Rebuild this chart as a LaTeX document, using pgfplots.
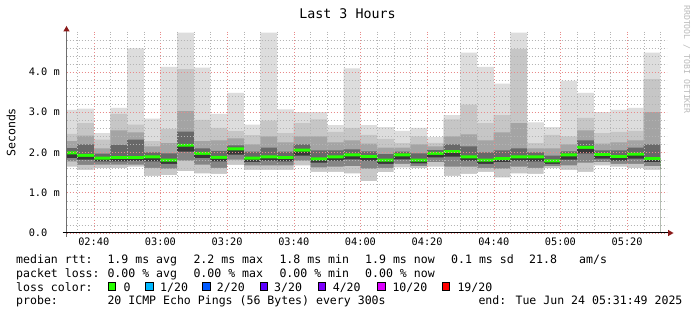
\documentclass[border=0pt]{standalone}
\usepackage{fontspec}
\usepackage{pgfplots}
\pgfplotsset{compat=1.18}
\usepackage{pgfplotstable}
\newfontfamily\mono{DejaVu Sans Mono}
\newcommand\axfont{\mono\fontsize{10.3}{12}\selectfont}
\newcommand\lgfont{\mono\fontsize{11.55}{13.8}\selectfont}
\definecolor{cmx}{HTML}{DDDDDD}
\definecolor{cuone}{HTML}{C6C6C6}
\definecolor{cutwo}{HTML}{A4A4A4}
\definecolor{cuthree}{HTML}{686868}
\definecolor{cgreen}{HTML}{26FF00}
\definecolor{cmd}{HTML}{383838}
\definecolor{clthree}{HTML}{858585}
\definecolor{cltwo}{HTML}{C8C8C8}
\definecolor{gridred}{HTML}{E88A8A}
\definecolor{gridgray}{HTML}{B4B4B4}
\definecolor{arrowred}{HTML}{8B1A1A}
\definecolor{yaxgray}{HTML}{6E6E6E}
\definecolor{wm}{HTML}{BBBBBB}
\definecolor{lone}{HTML}{00B8FF}
\definecolor{ltwo}{HTML}{0059FF}
\definecolor{lthree}{HTML}{5E00FF}
\definecolor{lfour}{HTML}{7E00FF}
\definecolor{lten}{HTML}{DD00FF}
\definecolor{lnineteen}{HTML}{FF0000}

% t = bin centre (minutes since 00:00); values in ms
\pgfplotstableread{
t     mx   u1   u2   u3   md   l3   l2   mn
152.5 3.06 2.46 2.28 2.11 1.99 1.86 1.78 1.65
157.5 3.09 2.73 2.42 2.20 1.93 1.82 1.69 1.57
162.5 2.48 2.32 2.10 1.97 1.86 1.78 1.70 1.61
167.5 3.11 2.96 2.55 2.19 1.87 1.78 1.70 1.61
172.5 4.59 2.69 2.50 2.32 1.87 1.79 1.70 1.65
177.5 2.84 2.28 2.15 2.00 1.89 1.78 1.62 1.42
182.5 4.13 2.59 2.23 1.98 1.81 1.72 1.60 1.44
187.5 4.98 4.07 3.03 2.52 2.18 2.02 1.80 1.54
192.5 4.11 2.81 2.28 2.10 1.98 1.86 1.70 1.48
197.5 2.96 2.61 2.30 2.04 1.88 1.78 1.62 1.47
202.5 3.48 2.53 2.35 2.18 2.09 1.95 1.82 1.69
207.5 2.69 2.43 2.20 2.02 1.86 1.77 1.68 1.57
212.5 4.98 2.79 2.40 2.12 1.89 1.80 1.68 1.57
217.5 3.07 2.48 2.25 2.02 1.87 1.78 1.68 1.57
222.5 3.00 2.73 2.40 2.20 2.06 1.92 1.80 1.68
227.5 3.00 2.82 2.40 2.05 1.84 1.75 1.63 1.52
232.5 2.68 2.51 2.25 2.05 1.89 1.80 1.65 1.52
237.5 4.09 2.61 2.30 2.08 1.94 1.83 1.66 1.48
242.5 2.68 2.44 2.22 2.03 1.90 1.80 1.60 1.29
247.5 2.63 2.34 2.12 1.96 1.81 1.72 1.62 1.51
252.5 2.54 2.23 2.12 2.02 1.94 1.83 1.72 1.63
257.5 2.61 2.40 2.20 1.98 1.81 1.73 1.66 1.61
262.5 2.38 2.24 2.15 2.06 1.98 1.88 1.76 1.65
267.5 2.93 2.82 2.40 2.20 2.02 1.90 1.65 1.42
272.5 4.48 3.19 2.45 2.15 1.89 1.80 1.65 1.47
277.5 4.13 2.73 2.30 2.00 1.81 1.72 1.62 1.52
282.5 3.71 2.93 2.50 2.05 1.85 1.76 1.60 1.38
287.5 4.98 4.57 2.73 2.10 1.89 1.80 1.65 1.48
292.5 2.75 2.23 2.10 2.00 1.89 1.78 1.62 1.47
297.5 2.63 2.44 2.10 1.92 1.79 1.72 1.66 1.61
302.5 3.78 2.40 2.20 2.03 1.94 1.82 1.68 1.57
307.5 3.48 2.86 2.55 2.30 2.13 1.98 1.75 1.52
312.5 3.00 2.48 2.22 2.05 1.95 1.85 1.76 1.68
317.5 3.06 2.51 2.25 2.05 1.90 1.80 1.72 1.65
322.5 3.11 2.54 2.30 2.12 1.96 1.85 1.72 1.61
327.5 4.48 3.82 3.00 2.20 1.85 1.76 1.66 1.57
}\data

\begin{document}
\begin{tikzpicture}[x=1pt,y=1pt]
\fill[white] (0,0) rectangle (697,-315);
\path[use as bounding box] (0,0) rectangle (697,-315);

\begin{axis}[
  name=ax, at={(66.5pt,-233pt)}, anchor=south west,
  width=600pt, height=201.25pt, scale only axis,
  xmin=151.817, xmax=331.817, ymin=0, ymax=5,
  axis line style={draw=none},
  axis on top,
  xtick={160,180,200,220,240,260,280,300,320},
  xticklabels={02:40,03:00,03:20,03:40,04:00,04:20,04:40,05:00,05:20},
  minor xtick={155,165,170,175,185,190,195,205,210,215,225,230,235,245,250,255,265,270,275,285,290,295,305,310,315,325,330},
  ytick={0,1,2,3,4},
  yticklabels={0.0\hphantom{0m},1.0 m,2.0 m,3.0 m,4.0 m},
  minor ytick={0.2,0.4,0.6,0.8,1.2,1.4,1.6,1.8,2.2,2.4,2.6,2.8,3.2,3.4,3.6,3.8,4.2,4.4,4.6,4.8},
  major tick length=0pt, minor tick length=0pt,
  grid=both,
  major grid style={draw=gridred, dash pattern=on 0.9pt off 2.1pt, line width=0.55pt},
  minor grid style={draw=gridgray, dash pattern=on 0.9pt off 2.1pt, line width=0.55pt},
  xticklabel style={font=\axfont, anchor=base, inner sep=0pt, yshift=-13pt},
  yticklabel style={font=\axfont, anchor=east, inner sep=0pt, xshift=-6.5pt},
]
\pgfplotsset{every axis plot/.append style={ybar, bar width=5.02, bar shift=0pt, draw=none}}
\addplot[fill=cmx] table[x=t,y=mx] {\data};
\addplot[fill=cuone] table[x=t,y=u1] {\data};
\addplot[fill=cutwo] table[x=t,y=u2] {\data};
\addplot[fill=cuthree] table[x=t,y=u3] {\data};
\addplot[fill=cgreen] table[x=t,y expr=\thisrow{md}+0.037] {\data};
\addplot[fill=cmd] table[x=t,y expr=\thisrow{md}-0.037] {\data};
\addplot[fill=clthree] table[x=t,y=l3] {\data};
\addplot[fill=cltwo] table[x=t,y=l2] {\data};
\addplot[fill=white] table[x=t,y=mn] {\data};
\end{axis}

% axis lines and arrows
\draw[line width=1pt, yaxgray] (66.5,-236.7) -- (66.5,-29);
\draw[line width=1pt, black] (62.7,-233) -- (669,-233);
\fill[arrowred] (66.5,-26) -- (63.3,-31.5) -- (69.7,-31.5) -- cycle;
\fill[arrowred] (673.5,-233) -- (668,-229.8) -- (668,-236.2) -- cycle;

% title, axis label, watermark
\node[anchor=base, inner sep=0pt, font=\mono\fontsize{13.3}{15}\selectfont] at (347.5,-18.3) {Last 3 Hours};
\node[anchor=base, rotate=90, inner sep=0pt, font=\lgfont] at (15.3,-132.4) {Seconds};
\node[anchor=base west, rotate=-90, inner sep=0pt, text=wm, font=\mono\fontsize{8.2}{9}\selectfont] at (684,-5) {RRDTOOL / TOBI OETIKER};

% legend
\begin{scope}[every node/.style={anchor=base west, inner sep=0pt, font=\lgfont}]
\node at (16,-263.7) {median rtt:};
\node at (107.3,-263.7) {1.9 ms avg};
\node at (193.3,-263.7) {2.2 ms max};
\node at (279.3,-263.7) {1.8 ms min};
\node at (365,-263.7) {1.9 ms now};
\node at (451,-263.7) {0.1 ms sd};
\node at (529,-263.7) {21.8};
\node at (579,-263.7) {am/s};

\node at (16,-277.5) {packet loss:};
\node at (107.3,-277.5) {0.00 \% avg};
\node at (193.3,-277.5) {0.00 \% max};
\node at (279.3,-277.5) {0.00 \% min};
\node at (365,-277.5) {0.00 \% now};

\node at (16,-291.3) {loss color:};
\node at (123.3,-291.3) {0};
\node at (160,-291.3) {1/20};
\node at (216.7,-291.3) {2/20};
\node at (274,-291.3) {3/20};
\node at (332.6,-291.3) {4/20};
\node at (392.3,-291.3) {10/20};
\node at (457.3,-291.3) {19/20};

\node at (16,-305) {probe:};
\node at (107.3,-305) {20 ICMP Echo Pings (56 Bytes) every 300s};
\node at (478.3,-305) {end: Tue Jun 24 05:31:49 2025};
\end{scope}
\foreach \bx/\bc in {108.3/cgreen,145.7/lone,202.7/ltwo,260/lthree,318.3/lfour,377.7/lten,442.3/lnineteen}{
  \filldraw[fill=\bc, draw=black, line width=0.9pt] (\bx,-282.7) rectangle ++(7.6,-7.8);
}
\end{tikzpicture}
\end{document}
